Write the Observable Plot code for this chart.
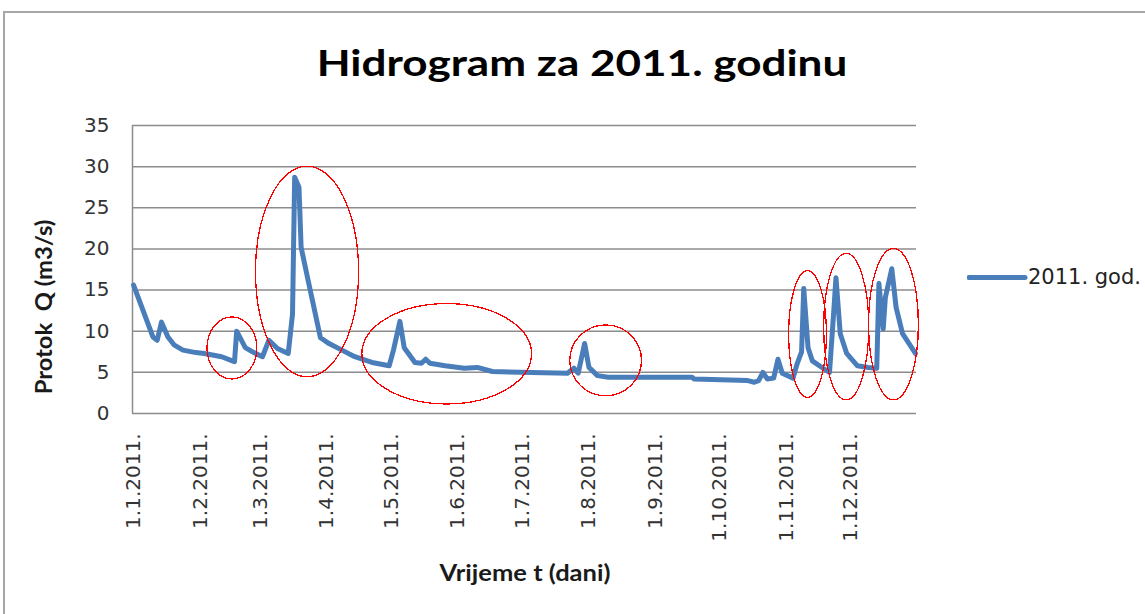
<!DOCTYPE html>
<html>
<head>
<meta charset="utf-8">
<script src="https://cdn.jsdelivr.net/npm/d3@7"></script>
<script src="https://cdn.jsdelivr.net/npm/@observablehq/plot@0.6"></script>
<style>
  body { margin: 0; background: #fff; }
  #wrap { position: relative; width: 1145px; height: 614px; overflow: hidden; background: #fff; }
  #frame { position: absolute; left: 3px; top: 11px; width: 1160px; height: 620px;
           border-top: 2px solid #a6a6a6; border-left: 2px solid #a6a6a6; box-sizing: border-box; }
  #chart { position: absolute; left: 0; top: 0; }
  .title { position: absolute; left: 582px; top: 43px; transform: translateX(-50%) scaleX(1.19);
           font-family: Lato, "Open Sans", sans-serif; font-weight: 700; font-size: 37px;
           line-height: 37px; white-space: nowrap; color: #000; }
  .xlab { position: absolute; left: 525px; top: 562px; transform: translateX(-50%) scaleX(1.16);
          font-family: Lato, "Open Sans", sans-serif; font-weight: 700; font-size: 22px;
          line-height: 22px; white-space: nowrap; color: #1a1a1a; }
  .ylab { position: absolute; left: 44px; top: 307px; transform: translate(-50%, -50%) rotate(-90deg) scaleX(1.08);
          font-family: Lato, "Open Sans", sans-serif; font-weight: 700; font-size: 22px;
          line-height: 22px; white-space: pre; color: #1a1a1a; }
  .legend { position: absolute; left: 967px; top: 267px; display: flex; align-items: center;
            font-family: "DejaVu Sans", sans-serif; font-size: 21px; line-height: 21px; color: #222; white-space: nowrap; }
  .legend svg { display: block; }
</style>
</head>
<body>
<div id="wrap">
  <div id="frame"></div>
  <div id="chart"></div>
  <div class="title">Hidrogram za 2011. godinu</div>
  <div class="ylab">Protok  Q (m3/s)</div>
  <div class="xlab">Vrijeme t (dani)</div>
  <div class="legend"><svg width="61" height="21"><line x1="2" x2="58" y1="10.5" y2="10.5" stroke="#4a7ebb" stroke-width="5" stroke-linecap="round"/></svg><span>2011. god.</span></div>
</div>
<script>
// ---- data ----
const dates = [
  "2011-01-01","2011-01-10","2011-01-12","2011-01-14","2011-01-17","2011-01-20","2011-01-24",
  "2011-01-30","2011-02-03","2011-02-11","2011-02-16","2011-02-17","2011-02-18","2011-02-22",
  "2011-02-26","2011-03-02","2011-03-05","2011-03-09","2011-03-14","2011-03-16","2011-03-17",
  "2011-03-19","2011-03-20","2011-03-23","2011-03-29","2011-04-02","2011-04-08","2011-04-14",
  "2011-04-22","2011-04-30","2011-05-02","2011-05-05","2011-05-07","2011-05-12","2011-05-15",
  "2011-05-17","2011-05-19","2011-05-26","2011-06-04","2011-06-10","2011-06-17","2011-06-30",
  "2011-07-22","2011-07-25","2011-07-27","2011-07-30","2011-08-01","2011-08-05","2011-08-10",
  "2011-09-18","2011-09-19","2011-10-14","2011-10-17","2011-10-19","2011-10-21","2011-10-23",
  "2011-10-26","2011-10-28","2011-10-30","2011-11-04","2011-11-06","2011-11-08","2011-11-09",
  "2011-11-11","2011-11-13","2011-11-18","2011-11-21","2011-11-23","2011-11-24","2011-11-26",
  "2011-11-29","2011-12-04","2011-12-09","2011-12-13","2011-12-14","2011-12-16","2011-12-17",
  "2011-12-20","2011-12-22","2011-12-25","2011-12-31"
];
const flow = [
  15.6, 9.3, 8.9, 11.1, 9.3, 8.3, 7.7,
  7.4, 7.3, 6.9, 6.4, 6.3, 10.0, 8.0,
  7.4, 6.9, 8.9, 7.9, 7.3, 12.1, 28.7,
  27.5, 20.2, 16.5, 9.2, 8.5, 7.7, 6.9,
  6.2, 5.8, 7.7, 11.2, 8.0, 6.2, 6.1,
  6.6, 6.1, 5.8, 5.5, 5.6, 5.1, 5.0,
  4.9, 5.5, 4.9, 8.5, 5.6, 4.6, 4.4,
  4.4, 4.2, 4.0, 3.8, 4.0, 5.0, 4.2,
  4.3, 6.6, 4.9, 4.3, 6.1, 7.5, 15.2,
  8.0, 6.4, 5.5, 5.0, 12.5, 16.5, 9.7,
  7.3, 5.8, 5.6, 5.5, 15.8, 10.3, 14.1,
  17.6, 12.9, 9.7, 7.3
];
const seriesName = "2011. god.";
const tickDates = ["2011-01-01","2011-02-01","2011-03-01","2011-04-01","2011-05-01","2011-06-01",
  "2011-07-01","2011-08-01","2011-09-01","2011-10-01","2011-11-01","2011-12-01"];
const tickLabels = ["1.1.2011.","1.2.2011.","1.3.2011.","1.4.2011.","1.5.2011.","1.6.2011.",
  "1.7.2011.","1.8.2011.","1.9.2011.","1.10.2011.","1.11.2011.","1.12.2011."];
const yTicks = [0, 5, 10, 15, 20, 25, 30, 35];
// annotation ellipses (centre date, centre Q, half-width in days, half-height in m3/s)
const ellipseCenterDates = ["2011-02-16","2011-03-23","2011-05-27","2011-08-09","2011-11-11","2011-11-29","2011-12-21"];
const ellipseCenterQ = [7.9, 17.2, 7.2, 6.4, 9.6, 10.5, 10.8];
const ellipseHalfDays = [11.6, 24, 39.5, 16.7, 8.8, 10.5, 11.6];
const ellipseHalfQ = [3.77, 12.8, 6.1, 4.3, 7.7, 8.9, 9.2];

// ---- build ----
const data = dates.map((d, i) => ({date: new Date(d), q: flow[i], series: seriesName}));
const labelOf = new Map(tickDates.map((d, i) => [+new Date(d), tickLabels[i]]));
const xDomain = [new Date("2010-12-31T12:00Z"), new Date("2011-12-31T12:00Z")];
const DAY = 864e5;

const ellipses = (index, scales) => {
  const g = d3.create("svg:g");
  ellipseCenterDates.forEach((d, i) => {
    const c = new Date(d);
    const cx = scales.x(c);
    const rx = scales.x(new Date(+c + ellipseHalfDays[i] * DAY)) - cx;
    const cy = scales.y(ellipseCenterQ[i]);
    const ry = scales.y(0) - scales.y(ellipseHalfQ[i]);
    g.append("ellipse").attr("cx", cx).attr("cy", cy).attr("rx", rx).attr("ry", ry)
      .attr("fill", "none").attr("stroke", "#ff0000").attr("stroke-width", 1.3)
      .attr("shape-rendering", "crispEdges");
  });
  return g.node();
};

const chart = Plot.plot({
  width: 1145,
  height: 614,
  marginLeft: 132,
  marginRight: 229,
  marginTop: 125,
  marginBottom: 201,
  style: {fontFamily: "DejaVu Sans, sans-serif", fontSize: "20px", color: "#333", background: "transparent", overflow: "visible"},
  x: {type: "utc", domain: xDomain},
  y: {domain: [0, 35]},
  marks: [
    Plot.gridY(yTicks, {stroke: "#8c8c8c", strokeOpacity: 1, strokeWidth: 1.5}),
    Plot.ruleX([xDomain[0]], {stroke: "#8c8c8c", strokeWidth: 1.5}),
    Plot.axisY(yTicks, {tickSize: 0, tickPadding: 23, label: null, tickFormat: d => String(d)}),
    Plot.axisX(tickDates.map(d => new Date(d)), {tickSize: 0, tickPadding: 20, tickRotate: -90, label: null, tickFormat: d => labelOf.get(+d)}),
    Plot.line(data, {x: "date", y: "q", stroke: "#4a7ebb", strokeWidth: 5, strokeLinejoin: "round", strokeLinecap: "round"}),
    ellipses
  ]
});
document.getElementById("chart").appendChild(chart);
</script>
</body>
</html>
